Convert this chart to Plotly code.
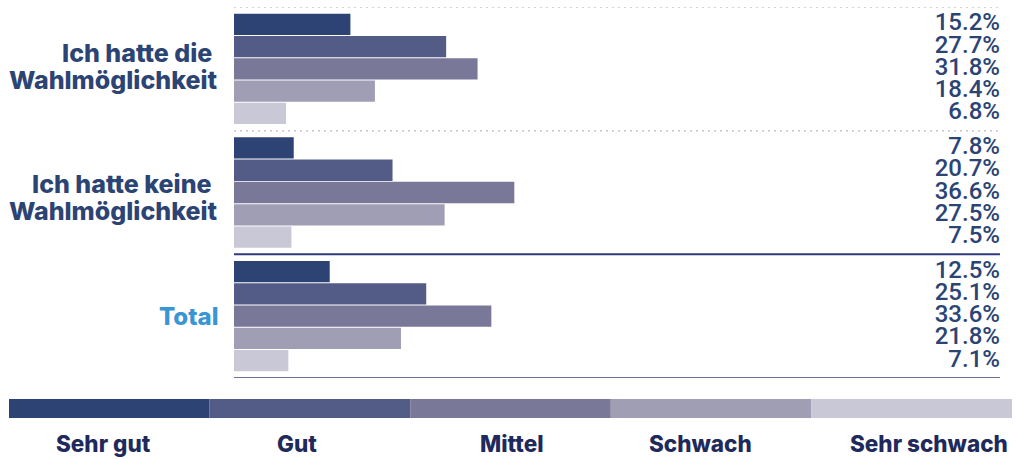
import plotly.graph_objects as go

# Survey results: share of ratings per group (percent)
groups = ["Ich hatte die Wahlmöglichkeit", "Ich hatte keine Wahlmöglichkeit", "Total"]
ratings = ["Sehr gut", "Gut", "Mittel", "Schwach", "Sehr schwach"]
sehr_gut = [15.2, 7.8, 12.5]
gut = [27.7, 20.7, 25.1]
mittel = [31.8, 36.6, 33.6]
schwach = [18.4, 27.5, 21.8]
sehr_schwach = [6.8, 7.5, 7.1]
series = [sehr_gut, gut, mittel, schwach, sehr_schwach]

colors = ["#2c4373", "#535c86", "#7a7898", "#a09eb5", "#c9c8d7"]
label_color = "#2c4474"
total_color = "#3a95d5"
legend_text_color = "#1f2a5c"

# layout of one group band (in y-axis units, one unit per group)
PAD = 0.05
SLOT = 0.18
BAR_W = 0.172


def bar_pos(g, i):
    return g + PAD + SLOT * (i + 0.5)


fig = go.Figure()

for i, (name, vals) in enumerate(zip(ratings, series)):
    ys = [bar_pos(g, i) for g in range(len(groups))]
    fig.add_trace(go.Bar(
        x=vals, y=ys, orientation="h", width=BAR_W, name=name,
        marker=dict(color=colors[i], line=dict(width=0)),
        showlegend=False, hoverinfo="skip",
    ))

# value labels at the right edge
lab_x, lab_y, lab_t = [], [], []
for i, vals in enumerate(series):
    for g, v in enumerate(vals):
        lab_x.append(100)
        lab_y.append(bar_pos(g, i))
        lab_t.append(f"{v:.1f}%")
fig.add_trace(go.Scatter(
    x=lab_x, y=lab_y, text=lab_t, mode="text", textposition="middle left",
    textfont=dict(family="Roboto", size=24, color=label_color, weight=500),
    cliponaxis=False, showlegend=False, hoverinfo="skip",
))

# separators between groups
sep_styles = [
    dict(color="#c4c4c8", width=1.5, dash="2px,4px"),
    dict(color="#c4c4c8", width=1.5, dash="2px,4px"),
    dict(color="#2f3a7a", width=2),
    dict(color="#6c7294", width=2),
]
for k, st in enumerate(sep_styles):
    fig.add_shape(type="line", xref="x", yref="y", x0=0, x1=100, y0=k, y1=k,
                  line=st, layer="above")

# group labels (two lines each, right-aligned against the plot)
label_font = dict(family="Inter", size=25, color=label_color, weight=800)
group_mid = [0.478, 1.538, 2.502]
LINE_OFF = 0.11
two_line = [("Ich hatte die", "Wahlmöglichkeit"), ("Ich hatte keine", "Wahlmöglichkeit")]
for g, (l1, l2) in enumerate(two_line):
    fig.add_annotation(text=l1, xref="paper", yref="y", x=0.2243, y=group_mid[g] - LINE_OFF,
                       xanchor="right", yanchor="middle", showarrow=False,
                       xshift=-20, font=label_font)
    fig.add_annotation(text=l2, xref="paper", yref="y", x=0.2243, y=group_mid[g] + LINE_OFF,
                       xanchor="right", yanchor="middle", showarrow=False,
                       xshift=-14, font=label_font)
fig.add_annotation(text=groups[2], xref="paper", yref="y", x=0.2243, y=group_mid[2],
                   xanchor="right", yanchor="middle", showarrow=False, xshift=-14,
                   font=dict(family="Inter", size=24, color=total_color, weight=800))

# colour key along the bottom
KEY_Y0, KEY_Y1 = 0.0907, 0.1327
key_label_x = [0.0947, 0.2871, 0.5015, 0.6899, 0.9172]
n = len(ratings)
for i, name in enumerate(ratings):
    fig.add_shape(type="rect", xref="paper", yref="paper",
                  x0=i / n, x1=(i + 1) / n, y0=KEY_Y0, y1=KEY_Y1,
                  fillcolor=colors[i], line=dict(width=0))
    fig.add_annotation(text=name, xref="paper", yref="paper", x=key_label_x[i], y=0.034,
                       xanchor="center", yanchor="middle", showarrow=False,
                       font=dict(family="Inter", size=22.5, color=legend_text_color, weight=800))

fig.update_layout(
    width=1016, height=459,
    margin=dict(l=9, r=4, t=7, b=0),
    paper_bgcolor="white", plot_bgcolor="white",
    barmode="overlay",
    xaxis=dict(domain=[0.2243, 0.988], range=[0, 100], visible=False, fixedrange=True),
    yaxis=dict(domain=[0.1792, 1], range=[3, 0], visible=False, fixedrange=True),
)

fig.write_html("out.html", config={"displayModeBar": False})
